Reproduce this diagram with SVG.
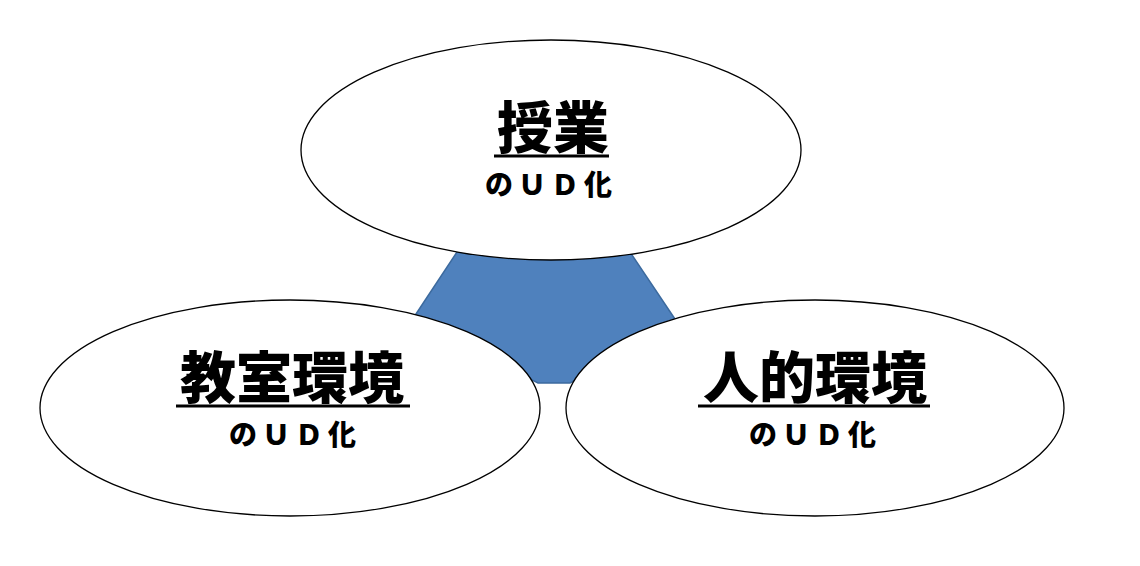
<svg xmlns="http://www.w3.org/2000/svg" width="1140" height="566" viewBox="0 0 1140 566">
<style>
.ell{fill:#ffffff;stroke:#000000;stroke-width:1.3}
.t{font-family:"Noto Sans CJK JP","Noto Sans CJK SC",sans-serif;font-weight:900;fill:#000;text-anchor:middle}
.big{font-size:56px}
.sm{font-size:28px;letter-spacing:5px}
.ul{stroke:#000;stroke-width:3}
</style>
<rect width="1140" height="566" fill="#ffffff"/>
<g id="connectors">
<polygon points="457,252 630,252 679,325 570,383 538,383 412,320" fill="#4f81bd" stroke="#3c6a9e" stroke-width="1.5"/>
</g>
<g id="node-jugyo">
<ellipse class="ell" cx="551" cy="150" rx="250" ry="110"/>
<text class="t big" x="553" y="148">授業</text>
<line class="ul" x1="494" y1="156" x2="609" y2="156"/>
<text class="t sm" x="551" y="195">のＵＤ化</text>
</g>
<g id="node-kyoshitsu">
<ellipse class="ell" cx="290" cy="408" rx="250" ry="108"/>
<text class="t big" x="292" y="398">教室環境</text>
<line class="ul" x1="176" y1="406" x2="410" y2="406"/>
<text class="t sm" x="295" y="445">のＵＤ化</text>
</g>
<g id="node-jinteki">
<ellipse class="ell" cx="815" cy="408" rx="249" ry="108"/>
<text class="t big" x="815" y="398">人的環境</text>
<line class="ul" x1="698" y1="406" x2="930" y2="406"/>
<text class="t sm" x="815" y="445">のＵＤ化</text>
</g>
</svg>
